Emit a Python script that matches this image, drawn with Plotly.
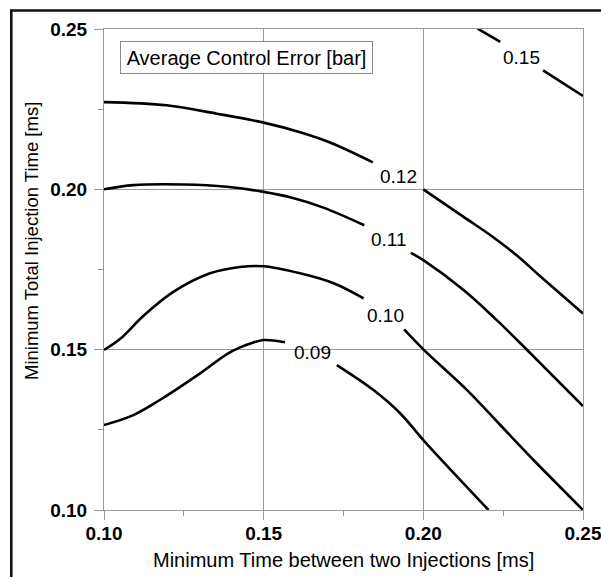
import plotly.graph_objects as go

# Contour levels of the average control error [bar]
levels = ["0.09", "0.10", "0.11", "0.12", "0.15"]

# Each isoline is drawn in two pieces (before / after its inline label)
c09_x = [0.100, 0.1092, 0.1175, 0.1301, 0.1385, 0.1426, 0.1463, 0.150, 0.1567, None,
         0.1729, 0.1844, 0.1928, 0.200, 0.2116, 0.2204]
c09_y = [0.1265, 0.1296, 0.1343, 0.1426, 0.1486, 0.1507, 0.1521, 0.1530, 0.1523, None,
         0.1452, 0.1374, 0.1301, 0.1218, 0.1093, 0.100]

c10_x = [0.100, 0.105, 0.1123, 0.1217, 0.1332, 0.1426, 0.150, 0.1614, 0.1719, 0.1813, None,
         0.194, 0.200, 0.2137, 0.2241, 0.2345, 0.250]
c10_y = [0.1499, 0.1533, 0.1605, 0.1680, 0.1738, 0.1758, 0.1760, 0.1738, 0.1707, 0.1660, None,
         0.1563, 0.1501, 0.1374, 0.1265, 0.1156, 0.100]

c11_x = [0.100, 0.1092, 0.1249, 0.1385, 0.150, 0.1583, 0.1687, 0.1815, None,
         0.1961, 0.200, 0.2126, 0.223, 0.2325, 0.250]
c11_y = [0.2000, 0.2013, 0.2015, 0.2008, 0.1992, 0.1975, 0.1943, 0.1888, None,
         0.1802, 0.1779, 0.1686, 0.1592, 0.1499, 0.1324]

c12_x = [0.100, 0.1196, 0.1353, 0.150, 0.1614, 0.1708, 0.1842, None,
         0.200, 0.2126, 0.222, 0.2295, 0.2366, 0.250]
c12_y = [0.2272, 0.2262, 0.2236, 0.2208, 0.2178, 0.2146, 0.2084, None,
         0.200, 0.1914, 0.1850, 0.1792, 0.1729, 0.1613]

c15_x = [0.217, 0.2241, None, 0.2375, 0.250]
c15_y = [0.2501, 0.2460, None, 0.2371, 0.2291]

# Where each level's label sits on its line
label_x = [0.1653, 0.1881, 0.1891, 0.1922, 0.2306]
label_y = [0.1490, 0.1608, 0.1844, 0.2039, 0.2412]

x_ticks = [0.10, 0.15, 0.20, 0.25]
y_ticks = [0.10, 0.15, 0.20, 0.25]
x_ticktext = ["0.10", "0.15", "0.20", "0.25"]
y_ticktext = ["0.10", "0.15", "0.20", "0.25"]

W, H = 601, 577
ML, MR, MT, MB = 104, 18, 29, 67
PW, PH = W - ML - MR, H - MT - MB

FONT = "Arial, Liberation Sans, sans-serif"
GRID = "#9a9a9a"


def px_to_paper_x(px):
    return (px - ML) / PW


def px_to_paper_y(py):
    return (H - MB - py) / PH


fig = go.Figure()
for xs, ys in [(c09_x, c09_y), (c10_x, c10_y), (c11_x, c11_y),
               (c12_x, c12_y), (c15_x, c15_y)]:
    fig.add_trace(go.Scatter(
        x=xs, y=ys, mode="lines", connectgaps=False,
        line=dict(color="black", width=2.6, shape="spline", smoothing=1.0),
        hoverinfo="skip", showlegend=False, cliponaxis=True,
    ))

annotations = []
for txt, lx, ly in zip(levels, label_x, label_y):
    annotations.append(dict(
        x=lx, y=ly, xref="x", yref="y", text=txt, showarrow=False,
        font=dict(family=FONT, size=19, color="black"),
        xanchor="center", yanchor="middle",
    ))

# Legend-style box naming the plotted quantity
annotations.append(dict(
    x=px_to_paper_x(246.7), y=px_to_paper_y(57.5), xref="paper", yref="paper",
    text="Average Control Error [bar]", showarrow=False,
    font=dict(family=FONT, size=20, color="black"),
    xanchor="center", yanchor="middle",
    bgcolor="white", bordercolor="#8a8a8a", borderwidth=1, borderpad=1,
    width=249, height=29,
))

# Y-axis title
annotations.append(dict(
    x=px_to_paper_x(31), y=px_to_paper_y(241), xref="paper", yref="paper",
    text="Minimum Total Injection Time [ms]", showarrow=False, textangle=-90,
    font=dict(family=FONT, size=18.5, color="black"),
    xanchor="center", yanchor="middle",
))

# X-axis title
annotations.append(dict(
    x=0.5, y=px_to_paper_y(559.5), xref="paper", yref="paper",
    text="Minimum Time between two Injections [ms]", showarrow=False,
    font=dict(family=FONT, size=20, color="black"),
    xanchor="center", yanchor="middle",
))

# Outer black frame on the left and top edges
shapes = [
    dict(type="line", xref="paper", yref="paper",
         x0=px_to_paper_x(11.3), x1=px_to_paper_x(11.3),
         y0=px_to_paper_y(10.5), y1=px_to_paper_y(H + 5),
         line=dict(color="#111111", width=2.6)),
    dict(type="line", xref="paper", yref="paper",
         x0=px_to_paper_x(10), x1=px_to_paper_x(W + 5),
         y0=px_to_paper_y(10.5), y1=px_to_paper_y(10.5),
         line=dict(color="#111111", width=2.6)),
]

axis_common = dict(
    showgrid=True, gridcolor=GRID, gridwidth=1,
    showline=True, linecolor=GRID, linewidth=1, mirror=True,
    ticks="outside", ticklen=9, tickcolor=GRID, tickwidth=1,
    tickfont=dict(family=FONT, size=19, color="black", weight="bold"),
    zeroline=False, automargin=False, ticklabeloverflow="allow",
    minor=dict(ticks="outside", ticklen=5, tickcolor=GRID, tickwidth=1,
               dtick=0.025, showgrid=False),
)

fig.update_layout(
    width=W, height=H,
    margin=dict(l=ML, r=MR, t=MT, b=MB, pad=0),
    paper_bgcolor="white", plot_bgcolor="white",
    xaxis=dict(range=[0.10, 0.25], tickvals=x_ticks, ticktext=x_ticktext,
               ticklabelstandoff=-3, **axis_common),
    yaxis=dict(range=[0.10, 0.25], tickvals=y_ticks, ticktext=y_ticktext,
               ticklabelstandoff=3, **axis_common),
    annotations=annotations, shapes=shapes,
    showlegend=False,
)

fig.write_html("out.html")
